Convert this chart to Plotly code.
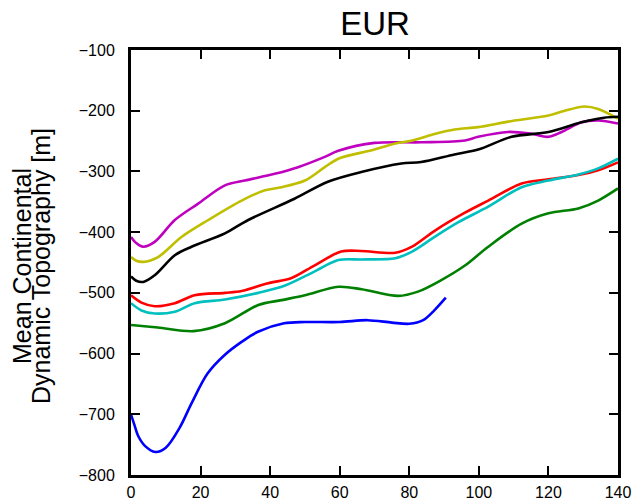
import plotly.graph_objects as go

# Age axis (x) and mean continental dynamic topography (m) for each model run
blue_x = [0, 1, 2, 4, 7, 10, 14, 17.4, 22, 27, 32, 36.5, 44, 50, 60, 68, 75, 80, 84, 87, 90.5]
blue_y = [-700, -718, -735, -752, -762, -755, -722, -682, -633, -602, -580, -564, -550, -548, -548, -545, -549, -551, -545, -530, -508]

green_x = [0, 7.7, 18, 27, 36.6, 43.3, 50, 59.6, 66.3, 76.8, 82.5, 89.2, 96, 102.7, 112.3, 120, 128.6, 134.3, 140]
green_y = [-553, -557, -563, -550, -520, -512, -504, -490, -494, -505, -498, -479, -455, -424, -386, -369, -361, -348, -328]

red_x = [0, 3, 6.8, 12.6, 18.3, 27, 31.8, 39.4, 46, 52.7, 60.4, 66.2, 76, 80.8, 87.5, 96, 102.7, 112.3, 120, 128.6, 134.3, 140]
red_y = [-504, -516, -522, -517, -504, -500, -497, -484, -476, -455, -432, -431, -434, -424, -397, -368, -348, -320, -313, -306, -298, -285]

cyan_x = [0, 3, 6.8, 12.6, 18.3, 27, 36.6, 44.3, 52.7, 59.6, 66.2, 76, 80.8, 87.5, 94, 102.7, 112.3, 120, 128.6, 134.3, 140]
cyan_y = [-517, -529, -534, -531, -517, -511, -500, -488, -465, -446, -445, -443, -432, -407, -384, -358, -326, -315, -305, -295, -279]

magenta_x = [0, 1.5, 3.5, 6.8, 12.6, 19.3, 27, 32.7, 41.3, 48, 55.7, 59.6, 70, 83.4, 96, 99.8, 108.4, 115.1, 120, 123.8, 129.5, 134.3, 140]
magenta_y = [-408, -418, -424, -416, -380, -353, -323, -315, -304, -293, -276, -266, -253, -252, -249, -243, -235, -238, -243, -235, -219, -216, -221]

yellow_x = [0, 1.5, 3.5, 7.8, 14.5, 22.2, 31.8, 38.5, 43.3, 50, 55.7, 59.6, 69.2, 76, 80.8, 87.5, 93, 99.8, 108.4, 120, 124.7, 130.4, 134.3, 140]
yellow_y = [-441, -447, -449, -441, -408, -380, -348, -331, -326, -315, -293, -279, -265, -254, -249, -238, -231, -227, -218, -208, -200, -193, -197, -213]

black_x = [0, 1.5, 3.5, 6.8, 12.6, 17.4, 27, 33.7, 47, 56.6, 66.2, 77.7, 83.4, 93, 99.8, 109.4, 120, 129.5, 136, 140]
black_y = [-473, -480, -482, -471, -438, -424, -402, -380, -345, -317, -301, -287, -284.5, -272, -264, -243, -235, -219, -211.5, -210]

series = [
    (blue_x, blue_y, "#0000ff"),
    (green_x, green_y, "#008000"),
    (red_x, red_y, "#ff0000"),
    (cyan_x, cyan_y, "#00bfbf"),
    (magenta_x, magenta_y, "#bf00bf"),
    (yellow_x, yellow_y, "#bfbf00"),
    (black_x, black_y, "#000000"),
]

x_ticks = [0, 20, 40, 60, 80, 100, 120, 140]
y_ticks = [-800, -700, -600, -500, -400, -300, -200, -100]

FONT = "Liberation Sans, Arial, Helvetica, sans-serif"

fig = go.Figure()
for xs, ys, col in series:
    fig.add_trace(go.Scatter(
        x=xs, y=ys, mode="lines",
        line=dict(color=col, width=2.6, shape="spline", smoothing=0.9),
        showlegend=False, hoverinfo="skip",
    ))

axis_common = dict(
    showline=True, linecolor="black", linewidth=3, mirror="ticks",
    ticks="inside", ticklen=9, tickwidth=1.8, tickcolor="black",
    showgrid=False, zeroline=False, automargin=False,
    tickfont=dict(family=FONT, size=16, color="black"),
)

fig.update_layout(
    template="none",
    width=634, height=502,
    margin=dict(l=131, r=16, t=50, b=27, pad=0),
    paper_bgcolor="white", plot_bgcolor="white",
    font=dict(family=FONT, color="black"),
    title=dict(text="EUR", x=375 / 634, xanchor="center", y=1 - 23 / 502, yanchor="middle",
               font=dict(size=33, color="black", family=FONT)),
    xaxis=dict(range=[0, 140], tickvals=x_ticks, ticklabelstandoff=1, **axis_common),
    yaxis=dict(range=[-800, -100], tickvals=y_ticks, ticklabelstandoff=10, **axis_common),
)

# Two-line rotated y-axis label, one annotation per line for tight line spacing
for text, cx in [("Mean Continental", 22), ("Dynamic Topography [m]", 41)]:
    fig.add_annotation(
        text=text,
        xref="paper", yref="paper", x=(cx - 131) / 487, y=(475 - 266) / 425,
        xanchor="center", yanchor="middle",
        textangle=-90, showarrow=False,
        font=dict(size=25, color="black", family=FONT),
    )

fig.write_html("out.html")
